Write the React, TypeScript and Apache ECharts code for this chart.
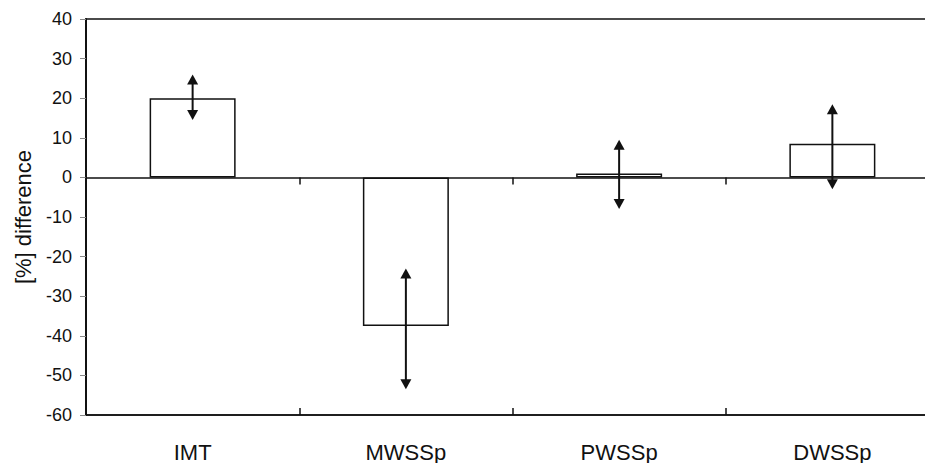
import React, { useEffect, useRef } from "react";
import * as echarts from "echarts";

const categories = ["IMT", "MWSSp", "PWSSp", "DWSSp"];
const barValues = [20, -37.5, 1, 8.5];
const arrowHigh = [26, -23, 9.5, 18.5];
const arrowLow = [14.5, -53.5, -8, -3];
const yTicks = { min: -60, max: 40, interval: 10 };

const FONT = "'Liberation Sans', Arial, sans-serif";
const INK = "#111";

export default function App() {
  const ref = useRef<HTMLDivElement>(null);
  useEffect(() => {
    if (!ref.current) return;
    const chart = echarts.init(ref.current, undefined, { renderer: "svg" });
    const errData = categories.map((_, i) => [i, arrowHigh[i], arrowLow[i]]);
    chart.setOption({
      animation: false,
      backgroundColor: "#fff",
      grid: {
        left: 86,
        top: 19,
        width: 853,
        height: 397,
        show: true,
        borderColor: INK,
        borderWidth: 1.5,
        backgroundColor: "transparent",
      },
      xAxis: [
        {
          type: "category",
          data: categories,
          position: "bottom",
          axisLine: { onZero: false, lineStyle: { color: INK, width: 1.5 } },
          axisTick: { show: false },
          axisLabel: { fontSize: 22, margin: 26, color: INK, fontFamily: FONT },
        },
        {
          type: "category",
          data: categories,
          position: "bottom",
          axisLine: { onZero: true, lineStyle: { color: INK, width: 1.5 } },
          axisTick: { show: true, inside: false, length: 7, lineStyle: { color: INK, width: 1.5 } },
          axisLabel: { show: false },
        },
        {
          type: "category",
          data: categories,
          position: "bottom",
          axisLine: { show: false, onZero: true },
          axisTick: { show: true, inside: true, length: 7, lineStyle: { color: INK, width: 1.5 } },
          axisLabel: { show: false },
        },
      ],
      yAxis: {
        type: "value",
        min: yTicks.min,
        max: yTicks.max,
        interval: yTicks.interval,
        name: "[%] difference",
        nameLocation: "middle",
        nameGap: 52,
        nameTextStyle: { fontSize: 22, color: INK, fontFamily: FONT },
        axisLine: { show: true, lineStyle: { color: INK, width: 2 } },
        axisTick: { show: true, length: 6, lineStyle: { color: "#888", width: 1 } },
        axisLabel: { fontSize: 18, margin: 14, color: INK, fontFamily: FONT },
        splitLine: { show: false },
      },
      series: [
        {
          type: "bar",
          xAxisIndex: 0,
          data: barValues,
          barWidth: 86,
          itemStyle: { color: "#fff", borderColor: INK, borderWidth: 1.5 },
          z: 2,
        },
        {
          type: "custom",
          xAxisIndex: 0,
          data: errData,
          z: 5,
          renderItem: (params: any, api: any) => {
            const x = api.value(0);
            const hi = api.coord([x, api.value(1)]);
            const lo = api.coord([x, api.value(2)]);
            const cx = hi[0];
            const hw = 5.5;
            const hh = 10;
            return {
              type: "group",
              children: [
                {
                  type: "line",
                  shape: { x1: cx, y1: hi[1] + hh - 1, x2: cx, y2: lo[1] - hh + 1 },
                  style: { stroke: INK, lineWidth: 2 },
                },
                {
                  type: "polygon",
                  shape: { points: [[cx, hi[1]], [cx - hw, hi[1] + hh], [cx + hw, hi[1] + hh]] },
                  style: { fill: INK },
                },
                {
                  type: "polygon",
                  shape: { points: [[cx, lo[1]], [cx - hw, lo[1] - hh], [cx + hw, lo[1] - hh]] },
                  style: { fill: INK },
                },
              ],
            };
          },
        },
      ],
    });
    return () => chart.dispose();
  }, []);
  return (
    <div
      style={{ position: "fixed", left: 0, top: 0, width: 925, height: 463, overflow: "hidden", background: "#fff" }}
    >
      <div ref={ref} style={{ width: 940, height: 463 }} />
    </div>
  );
}
